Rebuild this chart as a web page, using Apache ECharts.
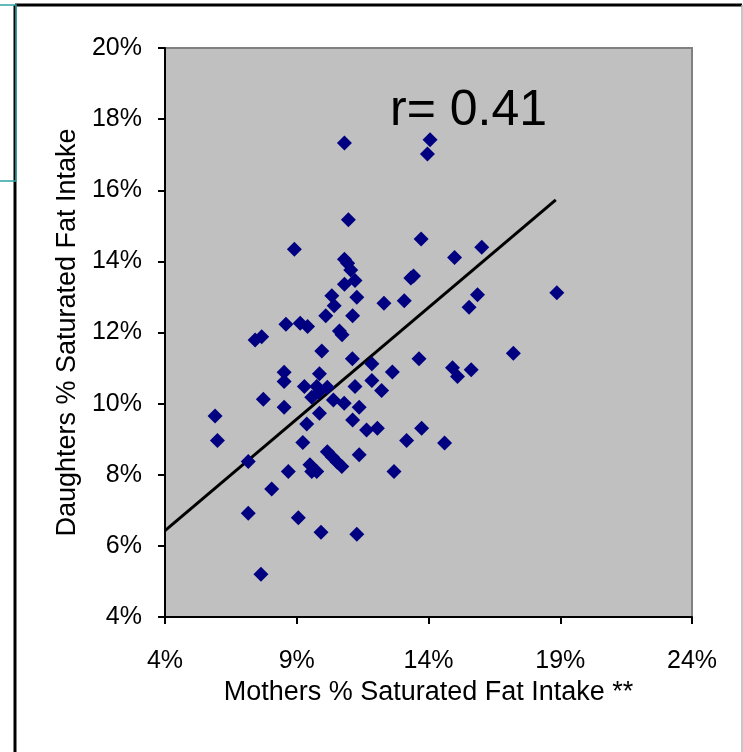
<!DOCTYPE html>
<html>
<head>
<meta charset="utf-8">
<script src="https://cdn.jsdelivr.net/npm/echarts/dist/echarts.min.js"></script>
<style>
  html, body { margin: 0; padding: 0; background: #ffffff; }
  #chart { width: 743px; height: 752px; }
</style>
</head>
<body>
<div id="chart"></div>
<script>
// Saturated fat intake (% of energy), one entry per mother–daughter pair
const mothers = [
  10.81, 14.06, 13.96, 10.96, 8.91, 13.72, 14.99, 16.02, 10.81, 10.93,
  11.05, 11.21, 10.81, 13.33, 13.43, 10.33, 11.28, 10.42, 12.31, 13.08,
  15.86, 15.54, 18.87, 10.10, 11.12, 8.59, 9.13, 9.41, 7.42, 7.67,
  10.62, 10.72, 9.95, 11.11, 11.85, 13.64, 12.63, 14.91, 15.10, 15.62,
  17.22, 8.52, 8.52, 9.86, 11.85, 9.29, 9.76, 10.16, 9.57, 9.82,
  11.21, 12.22, 7.73, 10.39, 10.80, 8.52, 11.37, 9.86, 11.12, 5.90,
  9.38, 11.65, 12.06, 13.74, 5.99, 9.23, 13.17, 14.61, 10.16, 10.35,
  10.53, 10.71, 11.37, 7.16, 9.50, 9.76, 9.57, 8.68, 12.69, 8.05,
  7.16, 9.06, 9.92, 11.28, 7.64
];
const daughters = [
  17.33, 17.42, 17.02, 15.17, 14.34, 14.63, 14.11, 14.40, 14.06, 13.95,
  13.76, 13.46, 13.36, 13.53, 13.59, 13.03, 12.99, 12.75, 12.82, 12.89,
  13.06, 12.71, 13.12, 12.47, 12.47, 12.23, 12.26, 12.17, 11.79, 11.88,
  12.04, 11.94, 11.48, 11.26, 11.12, 11.26, 10.89, 11.01, 10.76, 10.95,
  11.42, 10.88, 10.62, 10.84, 10.65, 10.48, 10.48, 10.46, 10.18, 10.31,
  10.48, 10.37, 10.12, 10.10, 10.01, 9.90, 9.90, 9.73, 9.54, 9.65,
  9.43, 9.26, 9.31, 9.31, 8.96, 8.91, 8.96, 8.89, 8.65, 8.50,
  8.36, 8.23, 8.56, 8.37, 8.28, 8.09, 8.09, 8.09, 8.09, 7.60,
  6.92, 6.79, 6.38, 6.33, 5.20
];

// Fitted trend line end points
const trendX = [4.0, 18.83];
const trendY = [6.43, 15.73];

// Axis tick values (%)
const xTicks = [4, 9, 14, 19, 24];
const yTicks = [4, 6, 8, 10, 12, 14, 16, 18, 20];

const corrLabel = 'r= 0.41';
const xName = 'Mothers % Saturated Fat Intake **';
const yName = 'Daughters % Saturated Fat Intake';

const points = mothers.map((m, i) => [m, daughters[i]]);
const trend = trendX.map((x, i) => [x, trendY[i]]);

const FONT = '"Liberation Sans", Arial, sans-serif';

const chart = echarts.init(document.getElementById('chart'), null, { renderer: 'canvas' });

chart.setOption({
  animation: false,
  backgroundColor: '#ffffff',
  grid: {
    left: 165, top: 48, right: 51, bottom: 135,
    show: true,
    backgroundColor: '#C0C0C0',
    borderColor: '#808080',
    borderWidth: 2
  },
  xAxis: {
    type: 'value',
    min: xTicks[0],
    max: xTicks[xTicks.length - 1],
    interval: xTicks[1] - xTicks[0],
    name: xName,
    nameLocation: 'middle',
    nameGap: 60,
    nameTextStyle: { fontFamily: FONT, fontSize: 27, color: '#000' },
    axisLine: { lineStyle: { color: '#000', width: 2 } },
    axisTick: { length: 7, lineStyle: { color: '#000', width: 2 } },
    axisLabel: {
      margin: 32,
      fontFamily: FONT, fontSize: 25, color: '#000',
      formatter: v => v + '%'
    },
    splitLine: { show: false }
  },
  yAxis: {
    type: 'value',
    min: yTicks[0],
    max: yTicks[yTicks.length - 1],
    interval: yTicks[1] - yTicks[0],
    name: yName,
    nameLocation: 'middle',
    nameGap: 83,
    nameTextStyle: { fontFamily: FONT, fontSize: 27, color: '#000' },
    axisLine: { lineStyle: { color: '#000', width: 2 } },
    axisTick: { length: 7, lineStyle: { color: '#000', width: 2 } },
    axisLabel: {
      margin: 23,
      fontFamily: FONT, fontSize: 25, color: '#000',
      formatter: v => v + '%'
    },
    splitLine: { show: false }
  },
  series: [
    {
      type: 'line',
      data: trend,
      symbol: 'none',
      lineStyle: { color: '#000000', width: 3 },
      z: 3
    },
    {
      type: 'scatter',
      data: points,
      symbol: 'diamond',
      symbolSize: 15,
      itemStyle: { color: '#000080', opacity: 1 },
      z: 4
    }
  ],
  graphic: [
    // page frame
    { type: 'line', shape: { x1: 15, y1: 5, x2: 15, y2: 752 }, style: { stroke: '#000', lineWidth: 3 } },
    { type: 'line', shape: { x1: 15, y1: 5, x2: 742, y2: 5 }, style: { stroke: '#000', lineWidth: 3 } },
    { type: 'line', shape: { x1: 742, y1: 5, x2: 742, y2: 752 }, style: { stroke: '#B4B4B4', lineWidth: 1.5 } },
    { type: 'rect', shape: { x: -2, y: 5, width: 18, height: 176 }, style: { fill: 'none', stroke: '#2FA3A3', lineWidth: 1.5 } },
    // correlation annotation
    {
      type: 'text', left: 390, top: 86, z: 10,
      style: { text: corrLabel, fontFamily: FONT, fontSize: 50, fill: '#000' }
    }
  ]
});
</script>
</body>
</html>
